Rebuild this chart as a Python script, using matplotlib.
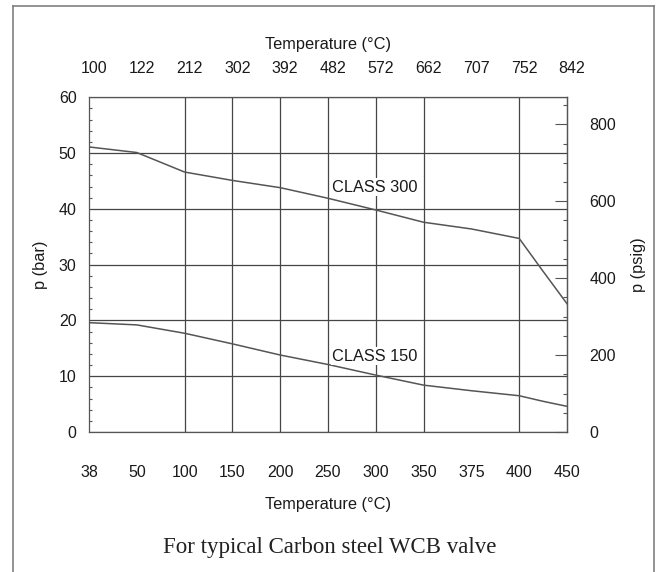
import numpy as np
import matplotlib
matplotlib.use("Agg")
import matplotlib.pyplot as plt
from matplotlib.ticker import MultipleLocator
from matplotlib.lines import Line2D
from matplotlib.transforms import ScaledTranslation

# ---- data ----
tick_temps_c = [38, 50, 100, 150, 200, 250, 300, 350, 375, 400, 450]
top_labels_f = ["100", "122", "212", "302", "392", "482", "572", "662", "707", "752", "842"]
grid_temps_c = [100, 150, 200, 250, 300, 350, 400]

temps_c = [38, 50, 100, 150, 200, 250, 300, 325, 350, 375, 400, 425, 450]
class300_bar = [51.1, 50.1, 46.6, 45.1, 43.8, 41.9, 39.8, 38.7, 37.6, 36.4, 34.7, 28.8, 23.0]
class150_bar = [19.6, 19.2, 17.7, 15.8, 13.8, 12.1, 10.2, 9.3, 8.4, 7.4, 6.5, 5.5, 4.6]

psig_ticks = [0, 200, 400, 600, 800]
PSI_PER_BAR = 14.5038

# ---- scale: category-like spacing of temperature ticks ----
_idx = np.arange(len(tick_temps_c), dtype=float)
_tt = np.array(tick_temps_c, dtype=float)

def fwd(x):
    return np.interp(x, _tt, _idx)

def inv(i):
    return np.interp(i, _idx, _tt)

plt.rcParams['font.family'] = ['Liberation Sans', 'DejaVu Sans']
TXT = '#1a1a1a'
GRID = '#454545'

fig = plt.figure(figsize=(6.57, 5.72), dpi=100)
ax = fig.add_axes([89/657, 1 - 432/572, (567 - 89)/657, (432 - 97.3)/572])

ax.set_xscale('function', functions=(fwd, inv))
ax.set_xlim(tick_temps_c[0], tick_temps_c[-1])
ax.set_ylim(0, 60)

ax.plot(temps_c, class300_bar, color='#555555', lw=1.1, zorder=3)
ax.plot(temps_c, class150_bar, color='#555555', lw=1.1, zorder=3)

# bottom axis
ax.xaxis.remove_overlapping_locs = False
ax.set_xticks(tick_temps_c)
ax.set_xticklabels([str(t) for t in tick_temps_c])
ax.set_xticks(grid_temps_c, minor=True)
ax.tick_params(axis='x', which='major', length=0, pad=24, labelsize=11.5, labelcolor=TXT)
ax.tick_params(axis='x', which='minor', length=0)
ax.grid(which='minor', axis='x', color=GRID, lw=0.9)
ax.set_xlabel('Temperature (°C)', fontsize=11.8, color=TXT, labelpad=12)

# left axis
ax.set_yticks(np.arange(0, 61, 10))
ax.yaxis.set_minor_locator(MultipleLocator(2))
ax.tick_params(axis='y', which='major', length=0, pad=9, labelsize=11.5, labelcolor=TXT)
ax.tick_params(axis='y', which='minor', direction='in', length=2.5, width=0.8, color='#555555')
ax.grid(which='major', axis='y', color=GRID, lw=0.9)
ax.set_ylabel('p (bar)', fontsize=11.8, color=TXT, labelpad=8)

for s in ax.spines.values():
    s.set_color('#555555')
    s.set_linewidth(0.9)

# top axis (°F labels)
axt = ax.twiny()
axt.set_xscale('function', functions=(fwd, inv))
axt.set_xlim(ax.get_xlim())
axt.set_xticks(tick_temps_c)
axt.set_xticklabels(top_labels_f)
axt.tick_params(axis='x', which='both', length=0, pad=15, labelsize=11.5, labelcolor=TXT)
axt.xaxis.set_minor_locator(plt.NullLocator())
axt.set_xlabel('Temperature (°C)', fontsize=11.8, color=TXT, labelpad=9)
for s in axt.spines.values():
    s.set_visible(False)
shift = ScaledTranslation(5/100, 0, fig.dpi_scale_trans)
for lbl in axt.get_xticklabels():
    lbl.set_transform(lbl.get_transform() + shift)

# right axis (psig)
axr = ax.secondary_yaxis('right', functions=(lambda b: b * PSI_PER_BAR,
                                             lambda p: p / PSI_PER_BAR))
axr.set_yticks(psig_ticks)
axr.yaxis.set_minor_locator(MultipleLocator(50))
axr.tick_params(axis='y', which='major', direction='in', length=9, width=0.8,
                color='#555555', pad=16, labelsize=11.5, labelcolor=TXT)
axr.tick_params(axis='y', which='minor', direction='in', length=3, width=0.8, color='#555555')
axr.spines['right'].set_color('#555555')
axr.spines['right'].set_linewidth(0.9)
axr.set_ylabel('p (psig)', fontsize=11.8, color=TXT, labelpad=11)

# curve labels
bb = dict(facecolor='white', edgecolor='none', pad=1.0)
ax.text(254, 43.9, 'CLASS 300', ha='left', va='center', fontsize=11.8, color=TXT, bbox=bb, zorder=4)
ax.text(254, 13.6, 'CLASS 150', ha='left', va='center', fontsize=11.8, color=TXT, bbox=bb, zorder=4)

# caption
fig.text(330/657, 1 - 547/572, 'For typical Carbon steel WCB valve', ha='center', va='center',
         fontsize=16.5, family=['Liberation Serif', 'DejaVu Serif'], color='#222222')

# outer frame
bc = '#808080'
fig.add_artist(Line2D([12.5/657, 12.5/657], [0, 1 - 5.5/572], transform=fig.transFigure, color=bc, lw=1.2))
fig.add_artist(Line2D([12.5/657, 654/657], [1 - 5.5/572, 1 - 5.5/572], transform=fig.transFigure, color=bc, lw=1.2))
fig.add_artist(Line2D([654/657, 654/657], [0, 1 - 5.5/572], transform=fig.transFigure, color=bc, lw=1.2))

fig.savefig('out.png', dpi=100)
